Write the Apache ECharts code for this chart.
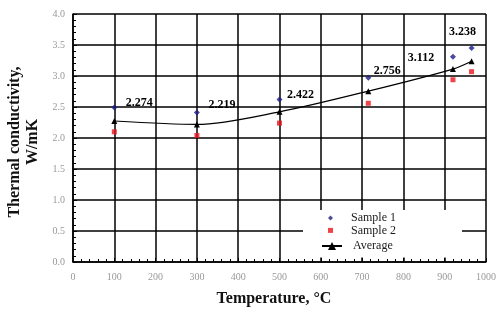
<!DOCTYPE html>
<html>
<head>
<meta charset="utf-8">
<script src="https://cdn.jsdelivr.net/npm/echarts@6/dist/echarts.min.js"></script>
<style>
html,body{margin:0;padding:0;background:#fff;}
#chart{width:503px;height:313px;}
</style>
</head>
<body>
<div id="chart"></div>
<script>
// temperatures (°C) and measured conductivities (W/mK)
var temps = [100, 300, 500, 715, 920, 965];
var sample1 = [2.49, 2.41, 2.62, 2.97, 3.31, 3.45];
var sample2 = [2.10, 2.04, 2.24, 2.56, 2.94, 3.07];
var average = [2.274, 2.219, 2.422, 2.756, 3.112, 3.238];

// where each average label sits relative to its point
var labelOffsets = [[25, -18], [25, -20], [21, -17], [19, -20], [-32, -11], [-9, -29]];

var serif = 'Liberation Serif';

function pairs(ys){
    return temps.map(function(t, i){ return [t, ys[i]]; });
}

var legendText = {
    fontFamily: serif,
    fontSize: 12,
    lineHeight: 12,
    color: '#1a1a1a'
};

var chart = echarts.init(document.getElementById('chart'));
var option = {
    backgroundColor: '#fff',
    animation: false,
    grid: {
        left: 73,
        right: 17,
        top: 14,
        bottom: 51,
        outerBoundsMode: 'none'
    },
    // two legends: small symbols for the samples, wider line icon for the average
    legend: [{
        orient: 'vertical',
        left: 303,
        top: 210,
        backgroundColor: '#fff',
        padding: [2, 66, 21, 25],
        itemGap: 0.4,
        itemWidth: 5,
        itemHeight: 5,
        textStyle: Object.assign({ padding: [0, 0, 0, 13] }, legendText),
        data: ['Sample 1', 'Sample 2']
    }, {
        orient: 'vertical',
        left: 321,
        top: 240,
        padding: 0,
        z: 6,
        itemWidth: 20,
        itemHeight: 10,
        textStyle: Object.assign({ padding: [0, 0, 0, 6] }, legendText),
        data: ['Average']
    }],
    xAxis: {
        type: 'value',
        min: 0,
        max: 1000,
        interval: 100,
        name: 'Temperature, °C',
        nameLocation: 'middle',
        nameGap: 29,
        nameTextStyle: {
            fontFamily: serif,
            fontWeight: 'bold',
            fontSize: 16,
            color: '#111',
            padding: [0, 11, 0, 0]
        },
        axisLine: { show: true, lineStyle: { color: '#000', width: 1.5 } },
        axisTick: { show: true, inside: true, length: 4, lineStyle: { color: '#000' } },
        minorTick: { show: true, splitNumber: 5, length: 3, lineStyle: { color: '#000' } },
        axisLabel: {
            fontFamily: serif,
            fontSize: 10,
            color: '#999',
            margin: 10,
            formatter: function(v){ return String(v); }
        },
        splitLine: { show: true, lineStyle: { color: '#000', width: 1.5 } }
    },
    yAxis: {
        type: 'value',
        min: 0,
        max: 4,
        interval: 0.5,
        name: 'Thermal conductivity,\nW/mK',
        nameLocation: 'middle',
        nameGap: 30,
        nameTextStyle: {
            fontFamily: serif,
            fontWeight: 'bold',
            fontSize: 16,
            lineHeight: 18,
            color: '#111',
            padding: [0, 8, 0, 0]
        },
        axisLine: { show: true, lineStyle: { color: '#000', width: 1.5 } },
        axisTick: { show: true, inside: true, length: 4, lineStyle: { color: '#000' } },
        minorTick: { show: true, splitNumber: 5, length: 3, lineStyle: { color: '#000' } },
        axisLabel: {
            fontFamily: serif,
            fontSize: 10,
            color: '#999',
            margin: 8,
            formatter: function(v){ return v.toFixed(1); }
        },
        splitLine: { show: true, lineStyle: { color: '#000', width: 1.5 } }
    },
    series: [{
        name: 'Sample 1',
        type: 'scatter',
        symbol: 'diamond',
        symbolSize: 6,
        itemStyle: { color: '#1b1b86' },
        data: pairs(sample1)
    }, {
        name: 'Sample 2',
        type: 'scatter',
        symbol: 'rect',
        symbolSize: 5,
        itemStyle: { color: '#e8141c' },
        data: pairs(sample2)
    }, {
        name: 'Average',
        type: 'line',
        smooth: 0.3,
        symbol: 'triangle',
        symbolSize: 6,
        itemStyle: { color: '#000' },
        lineStyle: { color: '#000', width: 1.2 },
        data: pairs(average).map(function(p, i){
            return {
                value: p,
                label: {
                    show: true,
                    position: 'inside',
                    offset: labelOffsets[i],
                    fontFamily: serif,
                    fontWeight: 'bold',
                    fontSize: 12,
                    color: '#000',
                    formatter: average[i].toFixed(3)
                }
            };
        }),
        z: 3
    }]
};
chart.setOption(option);
</script>
</body>
</html>
